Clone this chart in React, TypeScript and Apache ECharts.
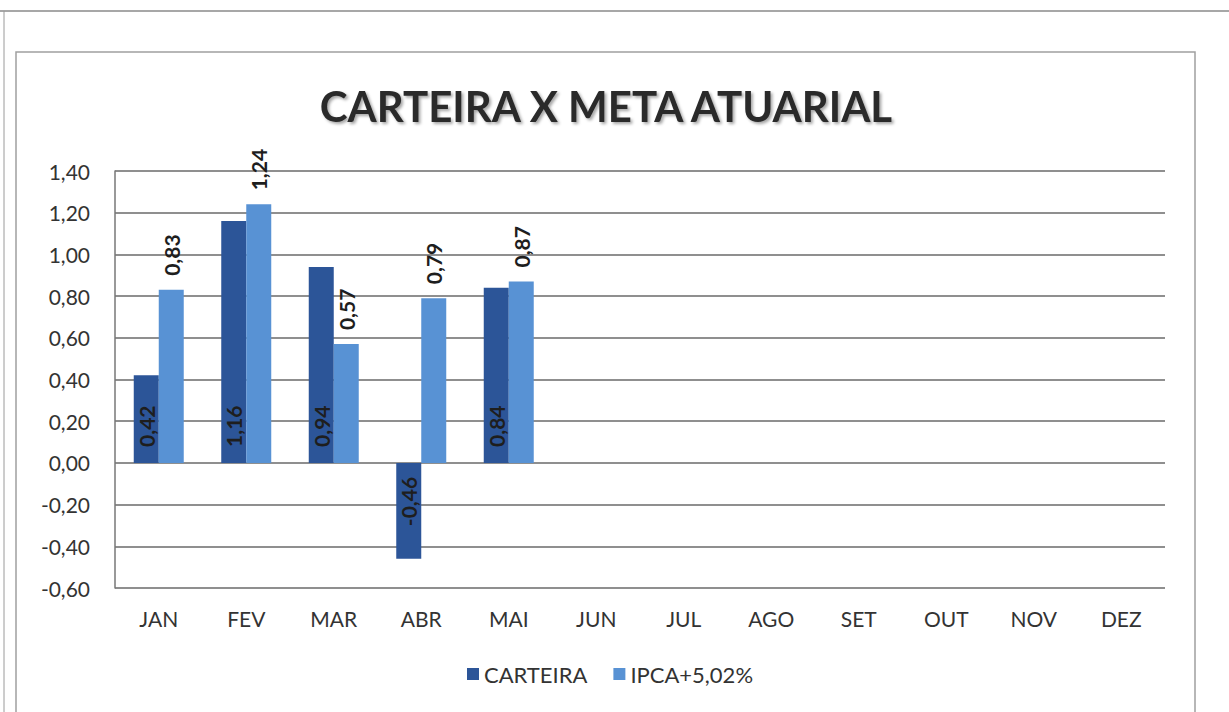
import React, { useEffect, useRef } from "react";
import * as echarts from "echarts";

const categories = ["JAN", "FEV", "MAR", "ABR", "MAI", "JUN", "JUL", "AGO", "SET", "OUT", "NOV", "DEZ"];
const carteira = [0.42, 1.16, 0.94, -0.46, 0.84, null, null, null, null, null, null, null];
const ipca = [0.83, 1.24, 0.57, 0.79, 0.87, null, null, null, null, null, null, null];
const seriesNames = ["CARTEIRA", "IPCA+5,02%"];
const titleText = "CARTEIRA X META ATUARIAL";

const fmt = (v: number) => v.toFixed(2).replace(".", ",");
const FONT = "Lato, 'Open Sans', sans-serif";

export default function App() {
  const ref = useRef<HTMLDivElement>(null);
  useEffect(() => {
    if (!ref.current) return;
    const chart = echarts.init(ref.current, null, { renderer: "svg" });
    const labelBase = {
      show: true,
      rotate: 90,
      fontSize: 21,
      fontWeight: "bold" as const,
      color: "#1e1e1e",
      fontFamily: FONT,
      formatter: (p: any) => fmt(p.value),
    };
    chart.setOption({
      animation: false,
      backgroundColor: "#ffffff",
      title: {
        text: titleText,
        left: 601,
        textAlign: "center",
        top: 80,
        textStyle: {
          fontFamily: FONT,
          fontSize: 42,
          fontWeight: "bold",
          color: "#2a2a2a",
          textShadowColor: "rgba(0,0,0,0.35)",
          textShadowBlur: 3,
          textShadowOffsetX: 2,
          textShadowOffsetY: 2,
        },
      },
      legend: {
        bottom: 22,
        left: 462,
        itemWidth: 12,
        itemHeight: 12,
        itemGap: 26,
        icon: "rect",
        textStyle: { fontFamily: FONT, fontSize: 22, color: "#333" },
        data: seriesNames,
      },
      grid: { left: 115, right: 64, top: 171, bottom: 124 },
      xAxis: {
        type: "category",
        data: categories,
        axisLine: { show: false },
        axisTick: { show: false },
        axisLabel: { fontFamily: FONT, fontSize: 21, color: "#333", margin: 20 },
      },
      yAxis: {
        type: "value",
        min: -0.6,
        max: 1.4,
        interval: 0.2,
        axisLine: { show: true, lineStyle: { color: "#777", width: 1.5 } },
        axisTick: { show: false },
        axisLabel: { fontFamily: FONT, fontSize: 21, color: "#333", margin: 25, formatter: (v: number) => fmt(v) },
        splitLine: { lineStyle: { color: "#6a6a6a", width: 1.5 } },
      },
      series: [
        {
          name: seriesNames[0],
          type: "bar",
          data: carteira.map((v) =>
            v !== null && v < 0
              ? { value: v, label: { position: "insideTop", align: "right", verticalAlign: "middle", distance: 14 } }
              : v
          ),
          barWidth: 25,
          barGap: "0%",
          itemStyle: { color: "#2c5598" },
          label: { ...labelBase, position: "insideBottom", align: "left", verticalAlign: "middle", distance: 16 },
        },
        {
          name: seriesNames[1],
          type: "bar",
          data: ipca,
          barWidth: 25,
          barGap: "0%",
          itemStyle: { color: "#5892d4" },
          label: { ...labelBase, position: "top", align: "left", verticalAlign: "middle", distance: 14 },
        },
      ],
      graphic: [
        { type: "line", shape: { x1: 0, y1: 11, x2: 1229, y2: 11 }, style: { stroke: "#8a8a8a", lineWidth: 1.5 } },
        { type: "line", shape: { x1: 4, y1: 11, x2: 4, y2: 712 }, style: { stroke: "#9a9a9a", lineWidth: 1 } },
        { type: "rect", shape: { x: 16, y: 52, width: 1179, height: 700 }, style: { fill: "none", stroke: "#a0a0a0", lineWidth: 1.5 } },
      ],
    });
    return () => chart.dispose();
  }, []);
  return <div ref={ref} style={{ position: "absolute", left: 0, top: 0, width: 1229, height: 712 }} />;
}
